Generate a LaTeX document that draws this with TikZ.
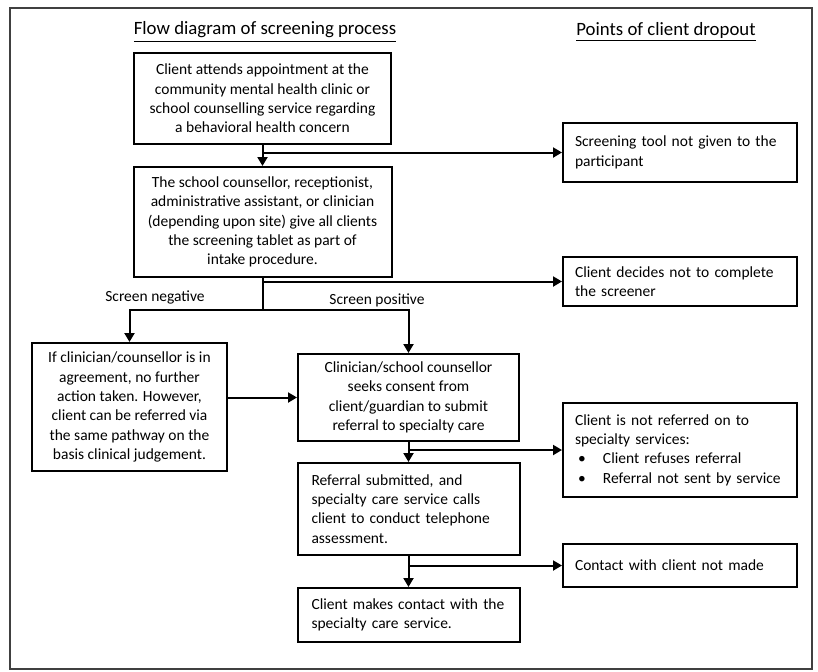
\documentclass[tikz,border=0pt]{standalone}
\usepackage{fontspec}
\setmainfont{Carlito}
\usetikzlibrary{arrows.meta, positioning}
\newcommand\flowfont{\fontsize{7.75}{9.65}\selectfont}
\newcommand\ttlfont{\fontsize{9.4}{11}\selectfont}
\begin{document}
\begin{tikzpicture}[x=0.5pt,y=-0.5pt,
    cbox/.style={draw,line width=1pt,align=center,font=\flowfont,inner xsep=3pt,inner ysep=2pt},
    lbox/.style={cbox,align=left,inner xsep=7pt,minimum width=111pt,text width=97pt},
    dbox/.style={cbox,align=left,inner xsep=6pt,minimum width=117pt,text width=105pt},
    arr/.style={line width=1pt,-{Triangle[length=4.5pt,width=5pt]}},
    ttl/.style={font=\ttlfont},
    lbl/.style={font=\flowfont}]
  \useasboundingbox (0,0) rectangle (818,671);
  \draw[line width=1pt,black!75] (10,8) rectangle (812,669);
  % headings
  \node[ttl] (hflow) at (265,32) {\underline{Flow diagram of screening process}};
  \node[ttl] (hdrop) at (666,32) {\underline{Points of client dropout}};
  % main flow
  \node[cbox,minimum width=128.5pt,minimum height=45.5pt] (visit) at (262.5,98.5)
    {Client attends appointment at the\\community mental health clinic or\\school counselling service regarding\\a behavioral health concern};
  \node[cbox,minimum width=129pt,minimum height=55pt] (tablet) at (262.5,222)
    {The school counsellor, receptionist,\\administrative assistant, or clinician\\(depending upon site) give all clients\\the screening tablet as part of\\intake procedure.};
  \node[cbox,minimum width=97.5pt,minimum height=64pt] (neg) at (129.5,407)
    {If clinician/counsellor is in\\agreement, no further\\action taken. However,\\client can be referred via\\the same pathway on the\\basis clinical judgement.};
  \node[cbox,minimum width=110.5pt,minimum height=43.5pt] (consent) at (408.5,397.5)
    {Clinician/school counsellor\\seeks consent from\\client/guardian to submit\\referral to specialty care};
  \node[lbox,minimum height=46pt] (refer) at (408.5,509)
    {Referral submitted, and\\specialty care service calls\\client to conduct telephone\\assessment.};
  \node[lbox,minimum height=27pt] (contact) at (408.5,615)
    {Client makes contact with the\\specialty care service.};
  % dropout points
  \node[dbox,minimum height=29.5pt] (notgiven) at (680,152.5)
    {Screening tool not given to the\\participant};
  \node[dbox,minimum height=24.5pt] (notdone) at (680,281.5)
    {Client decides not to complete\\the screener};
  \node[dbox,minimum height=47pt] (notref) at (680,450)
    {Client is not referred on to\\specialty services:\\
     \hspace*{1.5pt}\makebox[12.5pt][l]{•}Client refuses referral\\
     \hspace*{1.5pt}\makebox[12.5pt][l]{•}Referral not sent by service};
  \node[dbox,minimum height=21.5pt] (nocontact) at (680,565.5)
    {Contact with client not made\\[4pt]};
  \node[lbl] (lneg) at (155,297) {Screen negative};
  \node[lbl] (lpos) at (377,300) {Screen positive};
  % connectors
  \coordinate[below=16pt of tablet.south] (split);
  \draw[arr] (visit) -- (tablet);
  \draw[arr] (visit.south |- notgiven.west) -- (notgiven.west);
  \draw[line width=1pt] (tablet.south) -- (split);
  \draw[arr] (tablet.south |- notdone.west) -- (notdone.west);
  \draw[arr] (split) -| (neg.north);
  \draw[arr] (split) -| (consent.north);
  \draw[arr] (neg.east |- consent.west) -- (consent.west);
  \draw[arr] (consent) -- (refer);
  \draw[arr] (consent.south |- notref.west) -- (notref.west);
  \draw[arr] (refer) -- (contact);
  \draw[arr] (refer.south |- nocontact.west) -- (nocontact.west);
\end{tikzpicture}
\end{document}
